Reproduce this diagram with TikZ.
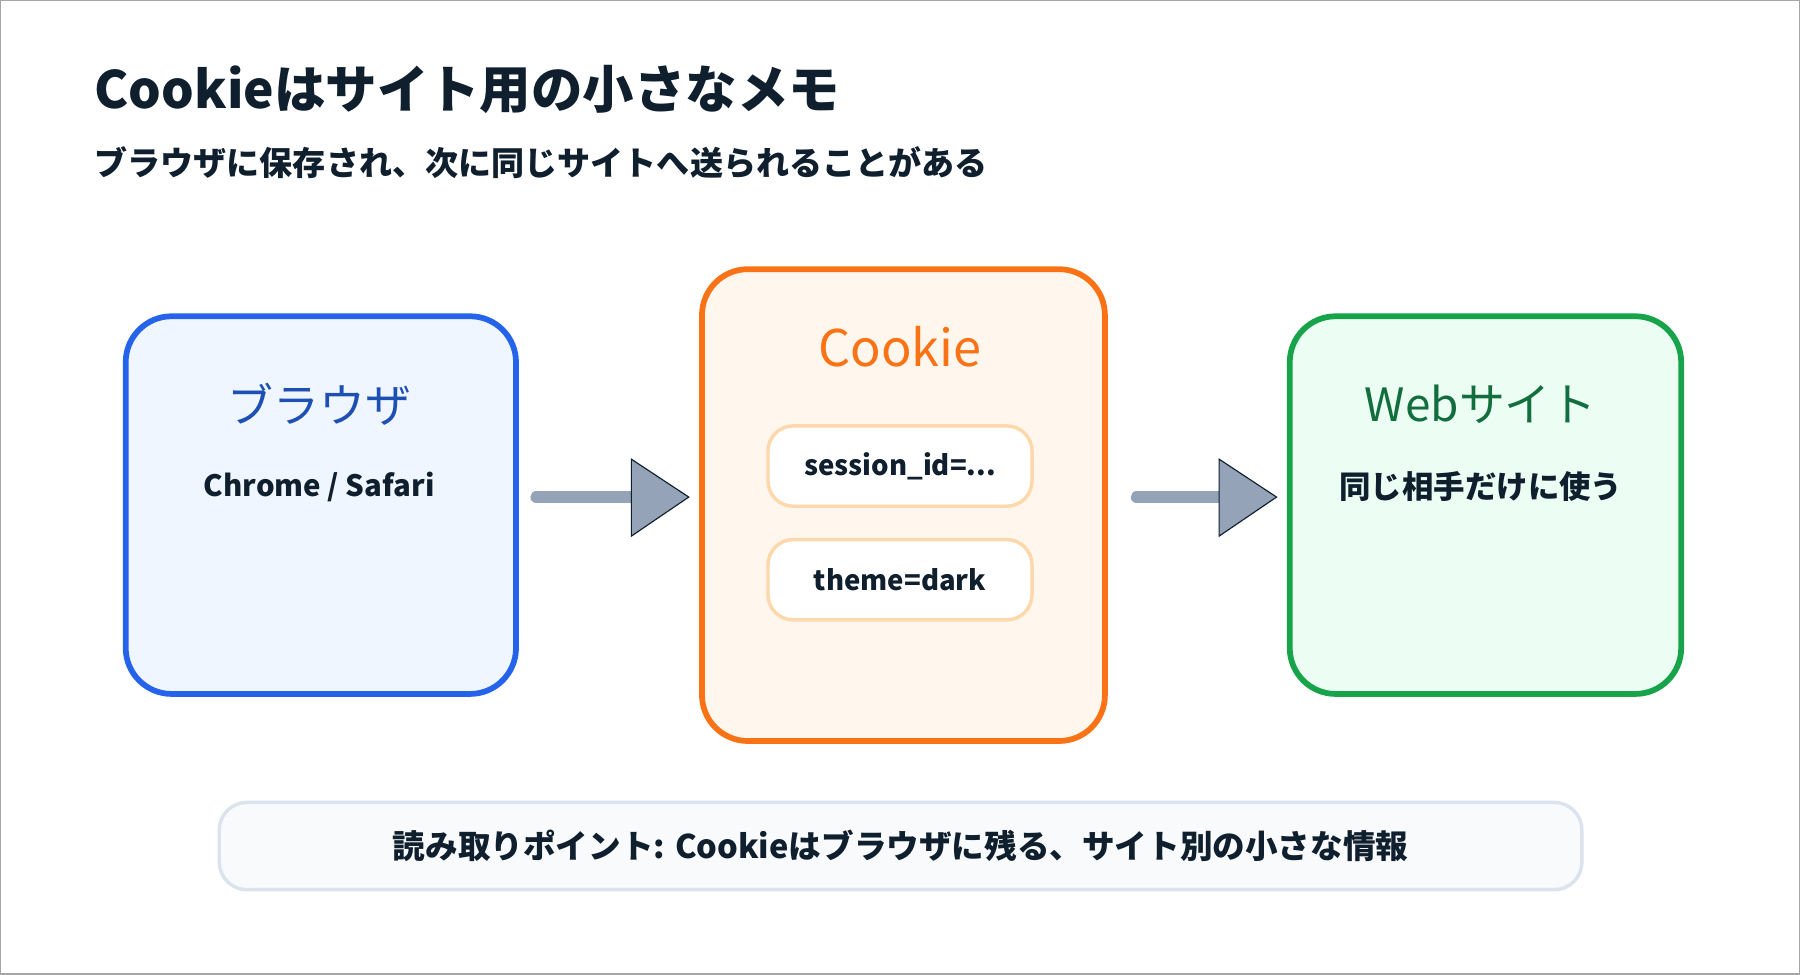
\documentclass[tikz,border=0pt]{standalone}
\usepackage{fontspec}
\setmainfont{Noto Sans CJK JP}
\usetikzlibrary{positioning}
\definecolor{ink}{HTML}{0F1F2E}
\definecolor{blueline}{HTML}{2563EB}
\definecolor{bluefill}{HTML}{EFF6FF}
\definecolor{orangeline}{HTML}{F97316}
\definecolor{orangefill}{HTML}{FFF7ED}
\definecolor{peach}{HTML}{FED7AA}
\definecolor{greenline}{HTML}{16A34A}
\definecolor{greenfill}{HTML}{ECFDF3}
\definecolor{slate}{HTML}{94A3B8}
\definecolor{noteline}{HTML}{DBE3EE}
\definecolor{notefill}{HTML}{F8FAFC}
\tikzset{
  panel/.style={draw, line width=2.5pt, rounded corners=20pt, anchor=north west},
  chip/.style={draw=peach, fill=white, line width=1.5pt, rounded corners=11pt,
    minimum width=115pt, minimum height=35pt, font=\bfseries\fontsize{12}{14}\selectfont, text=ink},
  shaft/.style={slate, line width=5pt, line cap=round},
  head/.style={fill=slate, draw=ink, line width=0.5pt}
}
\begin{document}
\begin{tikzpicture}[x=0.5pt,y=-0.5pt]
\useasboundingbox (0,0) rectangle (1568,849);
\draw[gray!70, line width=0.6pt] (0.5,0.5) rectangle (1567.5,848.5);

% title
\node[anchor=west, inner sep=0, text=ink, font=\bfseries\fontsize{22.4}{26}\selectfont] (title) at (82,78) {Cookieはサイト用の小さなメモ};
\node[anchor=west, inner sep=0, text=ink, font=\bfseries\fontsize{14.4}{17}\selectfont] (sub) at (82,142) {ブラウザに保存され、次に同じサイトへ送られることがある};

% panels
\node[panel, draw=blueline, fill=bluefill, minimum width=170pt, minimum height=164.5pt] (browser) at (107,273) {};
\node[panel, draw=orangeline, fill=orangefill, minimum width=175.5pt, minimum height=205.5pt] (cookie) at (609,232) {};
\node[panel, draw=greenline, fill=greenfill, minimum width=170.5pt, minimum height=164.5pt] (site) at (1121,273) {};

\node[text=blueline!70!ink, font=\fontsize{20}{24}\selectfont] (browsertitle) at (278,352) {ブラウザ};
\node[text=ink, font=\bfseries\fontsize{12.8}{15}\selectfont] (browsernote) at (278,424) {Chrome / Safari};
\node[text=orangeline, font=\fontsize{22}{26}\selectfont] (cookietitle) at (784,302) {Cookie};
\node[chip] (session) at (784,406) {session\_id=...};
\node[chip] (theme) at (784,505) {theme=dark};
\node[text=greenline!60!ink, font=\fontsize{20}{24}\selectfont] (sitetitle) at (1290,352) {Webサイト};
\node[text=ink, font=\bfseries\fontsize{13.7}{16}\selectfont] (sitenote) at (1290,424) {同じ相手だけに使う};

% arrows
\coordinate (a1) at (550,433);
\coordinate (a2) at (1062,433);
\draw[shaft] (467,433) -- (a1);
\draw[head] (a1) -- ++(0,-33) -- ++(50,33) -- ++(-50,34) -- cycle;
\draw[shaft] (990,433) -- (a2);
\draw[head] (a2) -- ++(0,-33) -- ++(50,33) -- ++(-50,34) -- cycle;

% note
\node[draw=noteline, fill=notefill, line width=1.5pt, rounded corners=12pt, minimum width=593.5pt, minimum height=38pt,
  text=ink, font=\bfseries\fontsize{14.2}{17}\selectfont] (note) at (784.5,737) {読み取りポイント: Cookieはブラウザに残る、サイト別の小さな情報};
\end{tikzpicture}
\end{document}
